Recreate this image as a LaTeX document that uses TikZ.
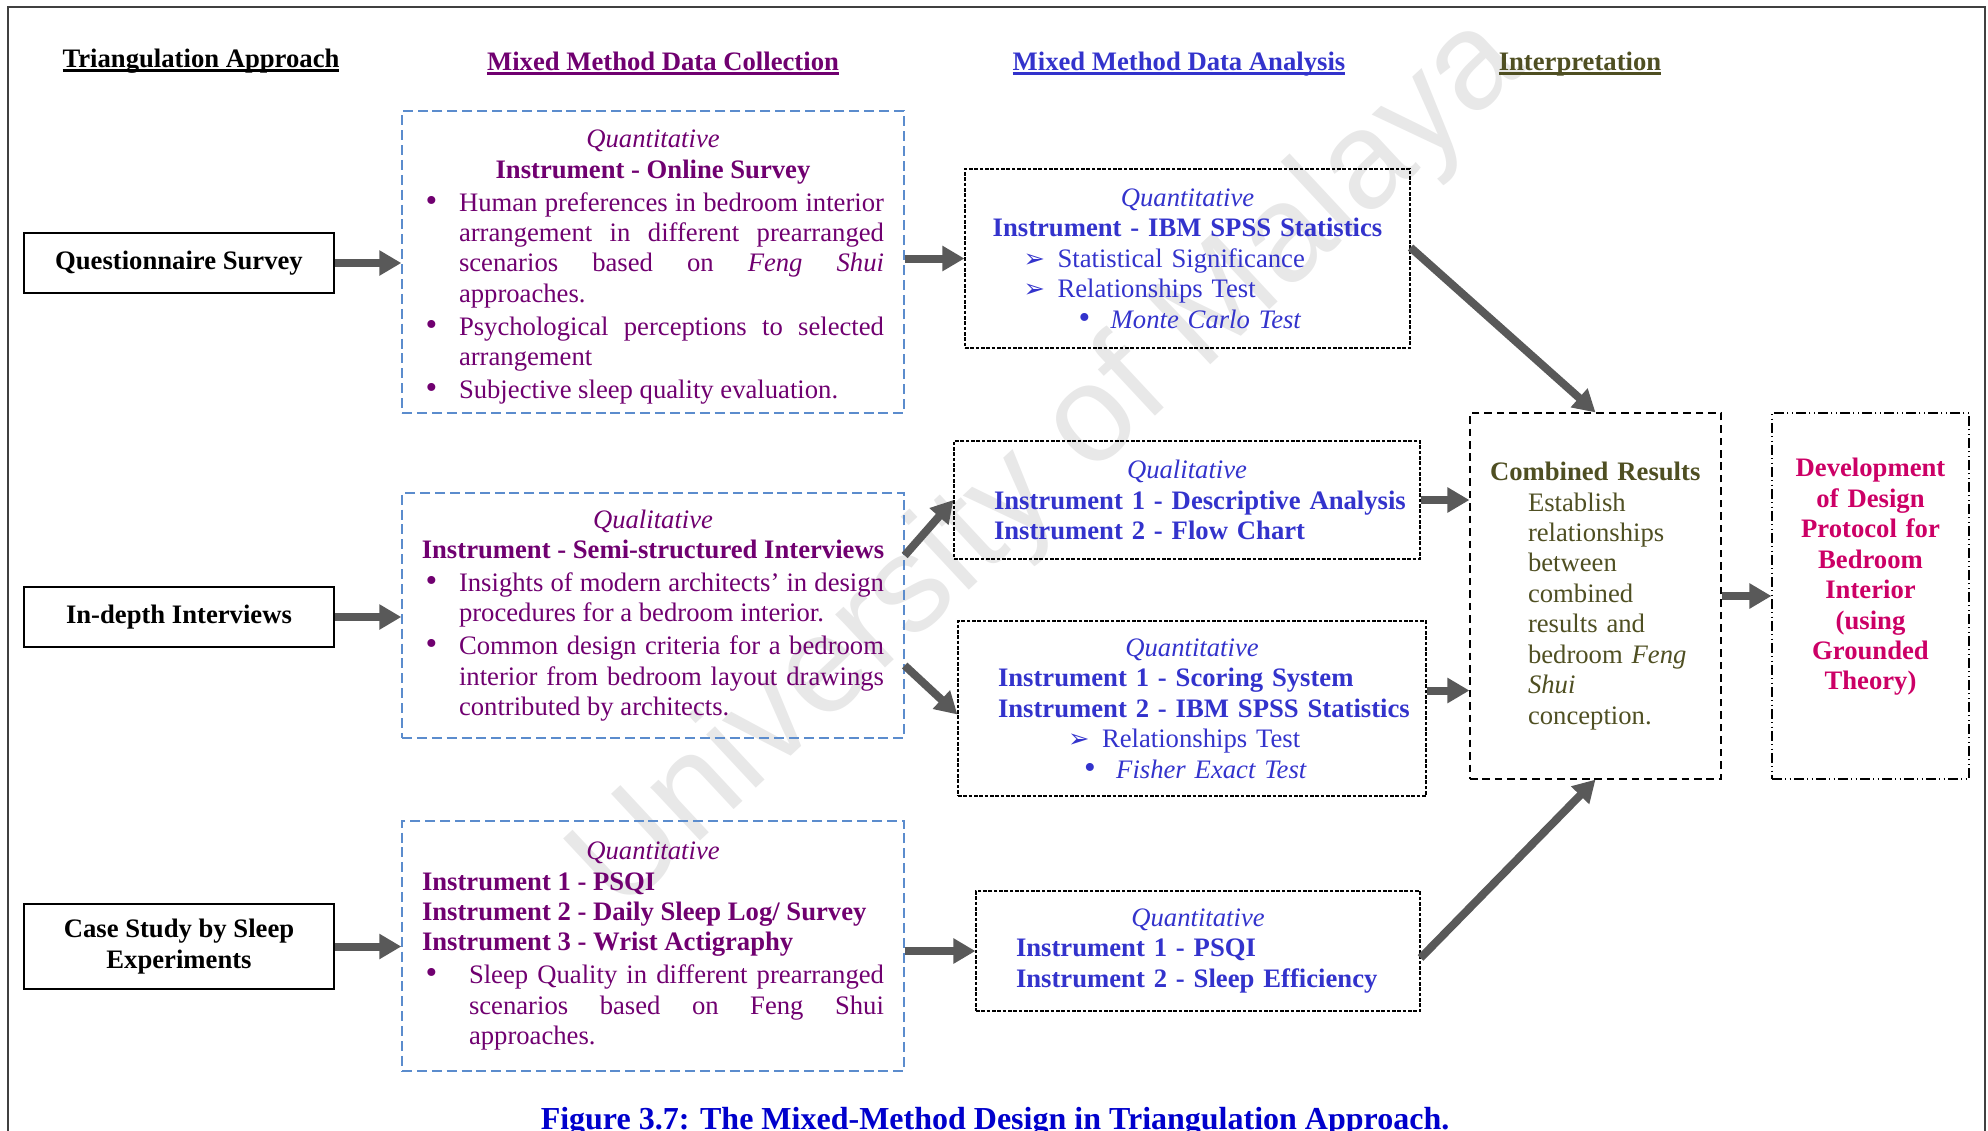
\documentclass[tikz,border=0pt]{standalone}
\usepackage{fontspec}
\setmainfont{Liberation Serif}
\newfontfamily\symfont{DejaVu Sans}
\newfontfamily\wmfont{Liberation Sans}
\usetikzlibrary{arrows.meta,calc}

\definecolor{collpurple}{RGB}{112,0,112}
\definecolor{collblue}{RGB}{91,140,205}
\definecolor{anablue}{RGB}{51,51,204}
\definecolor{olivetext}{RGB}{79,79,34}
\definecolor{devred}{RGB}{204,0,102}
\definecolor{capblue}{RGB}{0,0,204}
\definecolor{arrowgray}{RGB}{89,89,89}

\tolerance=10000 \hbadness=10000 \hfuzz=100pt \hyphenpenalty=10000 \parindent=0pt
\newcommand{\bodyfont}{\fontsize{12}{13.7}\selectfont}
\newcommand{\ulhead}[1]{\setbox0=\hbox{#1}\rlap{\rule[-2.2pt]{\wd0}{1.1pt}}\box0}
\newcommand{\bigdot}{{\fontsize{15}{15}\selectfont\textbullet}}
\newcommand{\bitem}[2][16.65pt]{\par\vspace{1pt}\noindent\hangindent=#1\hangafter=1\makebox[#1][l]{\hspace{1.6pt}\bigdot}#2\par}
\newcommand{\arritem}[2]{\par\noindent\hspace*{#1}\makebox[15.3pt][l]{\symfont\fontsize{11.5}{12}\selectfont ➢}#2\par}
\newcommand{\dotitem}[2]{\par\noindent\hspace*{#1}\makebox[14.5pt][l]{\bigdot}#2\par}

\tikzset{
  leftbox/.style={draw=black, line width=0.9pt, minimum width=139.5pt, minimum height=27pt, inner sep=0pt, align=center, font=\bodyfont\bfseries},
  collbox/.style={draw=collblue, line width=0.6pt, dash pattern=on 4.5pt off 2.2pt, minimum width=225.9pt, text width=207.9pt, inner sep=0pt, align=justify, text=collpurple},
  anabox/.style={draw=black, line width=0.5pt, dash pattern=on 1.6pt off 0.8pt, inner sep=0pt, align=left, text=anablue},
  combbox/.style={draw=black, line width=0.5pt, dash pattern=on 3.4pt off 2.2pt, minimum width=112.95pt, minimum height=164.7pt, text width=94.95pt, inner sep=0pt, align=left, text=olivetext},
  devbox/.style={draw=black, line width=0.5pt, dash pattern=on 4.5pt off 1.4pt on 0.6pt off 1.4pt on 0.6pt off 1.4pt, minimum width=88.65pt, minimum height=164.7pt, text width=80pt, inner sep=0pt, align=center, text=devred, font=\bodyfont\bfseries},
  header/.style={anchor=base, inner sep=0pt, font=\bodyfont\bfseries},
  fatarrow/.style={draw=arrowgray, line width=3.6pt, -{Triangle[length=9.9pt,width=10.8pt]}},
}

\begin{document}
\begin{tikzpicture}[x=0.45pt, y=-0.45pt, font=\bodyfont]
        \useasboundingbox (0,0) rectangle (1988,1130);
        \node[rotate=43, text=black!9, font=\wmfont\fontsize{62}{70}\selectfont, inner sep=0pt] (wmark) at (1050,466) {University of Malaya};
        \draw[line width=0.9pt, black!75] (8,1140) |- (1985,7) -- (1985,1140);

        % column heads
        \node[header] (h1) at (201,67) {\ulhead{Triangulation Approach}};
        \node[header, text=collpurple] (h2) at (663,70) {\ulhead{Mixed Method Data Collection}};
        \node[header, text=anablue] (h3) at (1179,70) {\ulhead{Mixed Method Data Analysis}};
        \node[header, text=olivetext] (h4) at (1580,70) {\ulhead{Interpretation}};

        \node[leftbox] (qs) at (179,263) {Questionnaire Survey};
        \node[leftbox] (idi) at (179,617) {In-depth Interviews};
        \node[leftbox, minimum height=38.25pt] (cse) at (179,946.5) {Case Study by Sleep\\Experiments};

        \node[collbox, minimum height=135.9pt] (col1) at (653,262) {%
            \centerline{\rule{0pt}{12.5pt}\textit{Quantitative}}
            \centerline{\textbf{Instrument - Online Survey}}
            \bitem{Human preferences in bedroom interior\linebreak arrangement in different prearranged\linebreak scenarios based on \textit{Feng Shui}\linebreak approaches.}
            \bitem{Psychological perceptions to selected\linebreak arrangement}
            \bitem{Subjective sleep quality evaluation.}};
        \node[collbox, minimum height=110.25pt] (col2) at (653,615.5) {%
            \centerline{\textit{Qualitative}}
            \centerline{\textbf{Instrument - Semi-structured Interviews}}
            \bitem{Insights of modern architects’ in design\linebreak procedures for a bedroom interior.}
            \bitem{Common design criteria for a bedroom\linebreak interior from bedroom layout drawings\linebreak contributed by architects.}};
        \node[collbox, minimum height=112.5pt] (col3) at (653,946) {%
            \centerline{\textit{Quantitative}}
            \mbox{\textbf{Instrument 1 - PSQI}}\par
            \mbox{\textbf{Instrument 2 - Daily Sleep Log/ Survey}}\par
            \mbox{\textbf{Instrument 3 - Wrist Actigraphy}}\par
            \bitem[21.15pt]{Sleep Quality in different prearranged\linebreak scenarios based on Feng Shui\linebreak approaches.}};

        \node[anabox, minimum width=200.25pt, minimum height=80.55pt, text width=172.8pt] (ana1) at (1187.5,258.5) {%
            \centerline{\textit{Quantitative}}
            \centerline{\textbf{Instrument - IBM SPSS Statistics}}
            \arritem{12.6pt}{Statistical Significance}
            \arritem{12.6pt}{Relationships Test}
            \dotitem{37.35pt}{\textit{Monte Carlo Test}}};
        \node[anabox, minimum width=209.7pt, minimum height=53.1pt, text width=173.7pt] (ana2) at (1187,500) {%
            \centerline{\textit{Qualitative}}
            \mbox{\textbf{Instrument 1 - Descriptive Analysis}}\par
            \mbox{\textbf{Instrument 2 - Flow Chart}}\par};
        \node[anabox, minimum width=210.6pt, minimum height=78.75pt, text width=174.6pt] (ana3) at (1192,708.5) {%
            \centerline{\textit{Quantitative}}
            \mbox{\textbf{Instrument 1 - Scoring System}}\par
            \mbox{\textbf{Instrument 2 - IBM SPSS Statistics}}\par
            \arritem{31.5pt}{Relationships Test}
            \dotitem{38.7pt}{\textit{Fisher Exact Test}}};
        \node[anabox, minimum width=199.8pt, minimum height=54pt, text width=163.8pt] (ana4) at (1198,951) {%
            \centerline{\textit{Quantitative}}
            \mbox{\textbf{Instrument 1 - PSQI}}\par
            \mbox{\textbf{Instrument 2 - Sleep Efficiency}}\par};

        \node[combbox] (comb) at (1595.5,596) {\mbox{\textbf{Combined Results}}\par
            \leftskip=17.1pt Establish\\ relationships\\ between\\ combined\\ results and\\ bedroom \textit{Feng}\\ \textit{Shui}\\ conception.\par};
        \node[devbox] (dev) at (1870.5,596) {Development\\ of Design\\ Protocol for\\ Bedroom\\ Interior\\ (using\\ Grounded\\ Theory)\\[6pt]\mbox{}};

        \node[anchor=base, inner sep=0pt, text=capblue, font=\fontsize{14.4}{16}\selectfont\bfseries] (cap) at (995,1129) {Figure 3.7: The Mixed-Method Design in Triangulation Approach.};

        \coordinate (c2up) at ($(col2.east)+(0,-60)$);
        \coordinate (c2down) at ($(col2.east)+(0,50)$);
        \coordinate (a1out) at ($(ana1.east)+(0,-11)$);
        \coordinate (a3in) at ($(ana3.west)+(0,6)$);
        \coordinate (a3out) at ($(ana3.east)+(0,-18)$);
        \coordinate (a4out) at ($(ana4.east)+(0,7)$);

        \foreach \a/\b in {qs/col1,idi/col2,cse/col3,ana2/comb,comb/dev}{
            \draw[fatarrow] (\a.east) -- (\a.east -| \b.west);
        }
        \draw[fatarrow] (col1.east |- ana1.west) -- (ana1.west);
        \draw[fatarrow] (col3.east |- ana4.west) -- (ana4.west);
        \draw[fatarrow] (c2up) -- (ana2.west);
        \draw[fatarrow] (c2down) -- (a3in);
        \draw[fatarrow] (a3out) -- (a3out -| comb.west);
        \draw[fatarrow] (a1out) -- (comb.north);
        \draw[fatarrow] (a4out) -- (comb.south);
    \end{tikzpicture}
\end{document}
